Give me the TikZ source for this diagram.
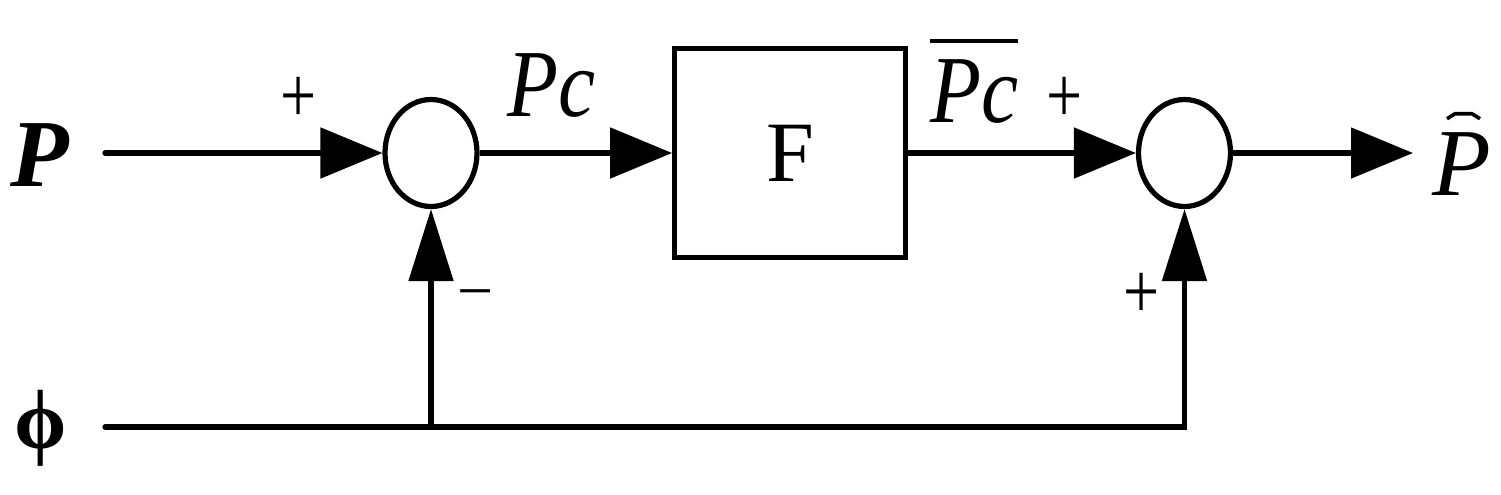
\documentclass[tikz,border=0pt]{standalone}
\usepackage{fontspec}
\usepackage{graphicx}
\setmainfont{Liberation Serif}
\usetikzlibrary{arrows.meta,shapes.geometric}
\begin{document}
\begin{tikzpicture}[x=0.5pt,y=-0.5pt,
  wire/.style={line width=2.6pt},
  harrow/.style={-{Triangle[length=31pt,width=25pt]}},
  varrow/.style={-{Triangle[length=36pt,width=22pt]}},
  sumnode/.style={draw,ellipse,line width=2.6pt,minimum width=46pt,minimum height=53.5pt,inner sep=0pt},
  blk/.style={draw,rectangle,line width=2.4pt,minimum width=115.5pt,minimum height=104.5pt,inner sep=0pt,font=\fontsize{43}{43}\selectfont},
  sgn/.style={inner sep=0pt,font=\fontsize{32}{32}\selectfont,anchor=base},
  lbl/.style={inner sep=0pt},
  hatmark/.style={line width=1.8pt,line join=miter}]
\useasboundingbox (0,0) rectangle (1501,494);
\node[sumnode] (s1) at (431,153) {};
\node[blk] (F) at (790,153) {F};
\node[sumnode] (s2) at (1184.5,153) {};
\coordinate (pin) at (105,153);
\coordinate (phin) at (105,427);
\coordinate (br) at (431,427);
\coordinate (cr) at (1184.5,427);
\coordinate (out) at (1413,153);
\draw[wire,harrow,line cap=round] (pin) -- (s1);
\draw[wire,harrow] (s1) -- (F);
\draw[wire,harrow] (F) -- (s2);
\draw[wire,harrow] (s2) -- (out);
\draw[wire,varrow,line cap=round] (phin) -- (cr) -- (s2.south);
\draw[wire,varrow] (br) -- (s1.south);
\node[lbl,font=\fontsize{48}{48}\selectfont\bfseries\itshape,anchor=base] (P) at (40,186) {P};
\node[lbl,font=\fontsize{42}{42}\selectfont\bfseries] (phi) at (41,428) {ϕ};
\node[lbl,font=\fontsize{48}{48}\selectfont\itshape,anchor=base west] (pc) at (507,116) {\scalebox{0.87}[1]{Pc}};
\node[lbl,font=\fontsize{48}{48}\selectfont\itshape,anchor=base west] (pcb) at (930,122) {\vbox{\hrule height 2pt\kern 8pt\hbox{\scalebox{0.87}[1]{Pc}}}};
\node[lbl,font=\fontsize{48}{48}\selectfont\itshape,anchor=base] (ph) at (1462,195) {P};
\draw[hatmark] ([shift={(-15,-13)}]ph.north) -- ([shift={(-7,-18)}]ph.north) -- ([shift={(10,-18)}]ph.north) -- ([shift={(18,-13)}]ph.north);
\node[sgn] (p1) at (299,122) {\scalebox{1}[1.25]{+}};
\node[sgn] (p2) at (1065,122) {\scalebox{1}[1.25]{+}};
\node[sgn] (p3) at (1142,318) {\scalebox{1}[1.25]{+}};
\node[sgn] (m1) at (476,312) {−};
\end{tikzpicture}
\end{document}
